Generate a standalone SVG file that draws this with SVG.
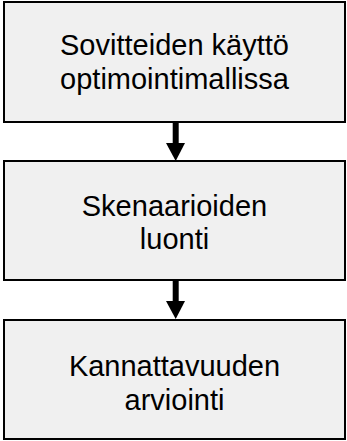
<svg xmlns="http://www.w3.org/2000/svg" width="347" height="441" viewBox="0 0 347 441">
<defs>
<style>
.box{fill:#f0f0f0;stroke:#000;stroke-width:2}
.lbl{font-family:"Liberation Sans",Arial,sans-serif;font-size:29px;fill:#000;text-anchor:middle}
.conn{stroke:#000;stroke-width:6;fill:none}
.head{fill:#000}
</style>
</defs>
<rect width="347" height="441" fill="#fff"/>
<g id="node1">
<rect class="box" x="4" y="2" width="341" height="120"/>
<text class="lbl" x="174.5" y="54.5">Sovitteiden käyttö</text>
<text class="lbl" x="174.5" y="88.5">optimointimallissa</text>
</g>
<g id="node2">
<rect class="box" x="4" y="161" width="341" height="119"/>
<text class="lbl" x="174.5" y="215.5">Skenaarioiden</text>
<text class="lbl" x="174.5" y="249">luonti</text>
</g>
<g id="node3">
<rect class="box" x="4" y="320" width="341" height="119"/>
<text class="lbl" x="174.5" y="376">Kannattavuuden</text>
<text class="lbl" x="174.5" y="410">arviointi</text>
</g>
<g id="connectors">
<line class="conn" x1="175.7" y1="123" x2="175.7" y2="144"/>
<polygon class="head" points="166,143 185,143 175.7,161"/>
<line class="conn" x1="175.7" y1="281" x2="175.7" y2="302"/>
<polygon class="head" points="166,301 185,301 175.7,319"/>
</g>
</svg>
